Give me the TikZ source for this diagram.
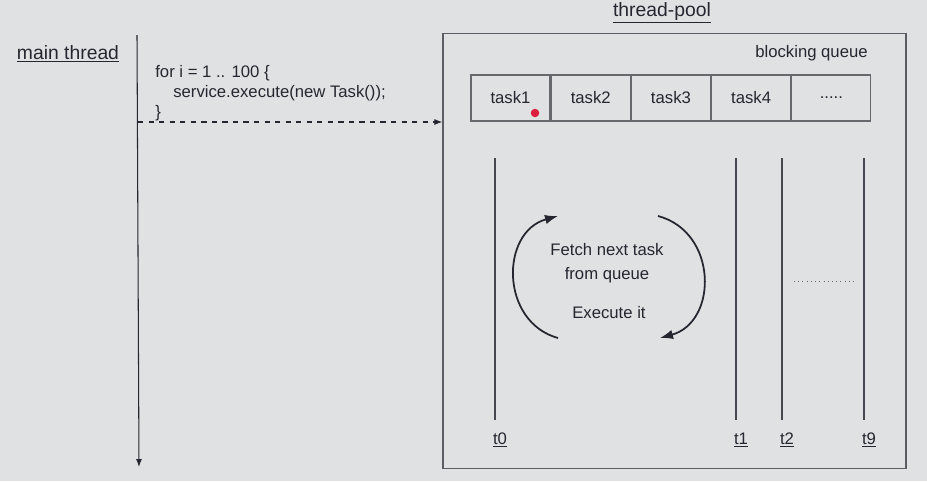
\documentclass[tikz,border=0pt]{standalone}
\usepackage{fontspec}
\setmainfont{Liberation Sans}
\usetikzlibrary{arrows.meta,positioning,calc}
\definecolor{bg}{RGB}{224,225,227}
\definecolor{ink}{RGB}{38,38,48}
\definecolor{dotred}{RGB}{222,30,62}
\tikzset{
    cell/.style={draw=ink!70, line width=0.7pt, minimum width=1.58cm, minimum height=0.92cm, inner sep=0pt, font=\fontsize{9.5}{11}\selectfont, text=ink},
    lifeline/.style={draw=ink!85, line width=0.6pt},
    heading/.style={font=\fontsize{11}{13}\selectfont, text=ink},
    plain/.style={font=\fontsize{9.5}{12}\selectfont, text=ink, inner sep=0pt},
    cycle/.style={-{Latex[length=2.6mm, width=1.9mm]}, line width=1pt, ink},
    handoff/.style={-{Latex[length=1.6mm, width=1.2mm]}, dashed, line width=0.6pt, ink}
}

\begin{document}
\begin{tikzpicture}[x=0.02cm, y=-0.02cm]
            \fill[bg] (0,0) rectangle (927,481);
            \useasboundingbox (0,0) rectangle (927,481);
            % main thread
            \node[heading] (main) at (68,54) {\underline{main thread}};
            \coordinate (mtop) at (137,35);
            \coordinate (mbot) at (139,467);
            \draw[-{Latex[length=1.6mm, width=1.2mm]}, line width=0.6pt, ink] (mtop) -- (mbot);
            \node[plain, anchor=base west] (loop) at (155,77) {for i = 1 .. 100 \{};
            \node[plain, anchor=base west] (call) at (173,97) {service.execute(new Task());};
            \node[plain, anchor=base west] (close) at (155,117) {\}};
            % thread pool
            \node[heading] (pooltitle) at (662,13) {\underline{thread-pool}};
            \node[draw=ink!75, line width=0.7pt, minimum width=9.26cm, minimum height=8.7cm] (pool) at (674.5,251) {};
            \coordinate (send) at (138,122);
            \draw[handoff] (send) -- (send -| pool.west);
            \node[plain, anchor=base east] (bq) at (868,57) {blocking queue};
            \node[cell] (task1) at (510.5,98) {task1};
            \node[cell, right=0pt of task1] (task2) {task2};
            \node[cell, right=0pt of task2] (task3) {task3};
            \node[cell, right=0pt of task3] (task4) {task4};
            \node[cell, right=0pt of task4] (more) {.....};
            \node[circle, fill=dotred, inner sep=0pt, minimum size=0.17cm] (pointer) at (535,113) {};
            % worker threads
            \foreach \name/\x in {t0/495, t1/736, t2/782, t9/864} {
                \coordinate (\name top) at (\x,158);
                \coordinate (\name bot) at (\x,420);
                \draw[lifeline] (\name top) -- (\name bot);
                \node[plain, anchor=base] (\name lbl) at (\x+5,444) {\underline{\name}};
            }
            \coordinate (gapl) at (794,281);
            \coordinate (gapr) at (857,281);
            \draw[dotted, ink!70] (gapl) -- (gapr);
            % fetch / execute cycle
            \node[plain, align=center] (fetch) at (607,263) {Fetch next task\\[2pt]from queue};
            \node[plain] (exec) at (609,313) {Execute it};
            \coordinate (la) at (558,338);
            \coordinate (lb) at (558,216);
            \coordinate (ra) at (658,216);
            \coordinate (rb) at (660,338);
            \draw[cycle] (la) .. controls (500,322) and (500,232) .. (lb);
            \draw[cycle] (ra) .. controls (718,232) and (718,322) .. (rb);
        \end{tikzpicture}
\end{document}
